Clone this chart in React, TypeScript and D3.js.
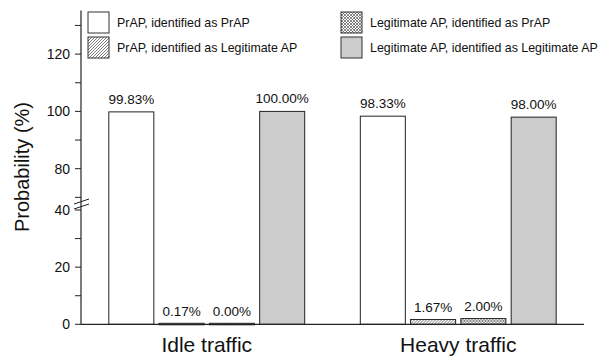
import React from "react";
import * as d3 from "d3";

const groups = ["Idle traffic", "Heavy traffic"];
const seriesKeys = ["pp", "pl", "lp", "ll"];
const seriesLabels = [
  "PrAP, identified as PrAP",
  "PrAP, identified as Legitimate AP",
  "Legitimate AP, identified as PrAP",
  "Legitimate AP, identified as Legitimate AP",
];
const idleValues = [99.83, 0.17, 0.0, 100.0];
const heavyValues = [98.33, 1.67, 2.0, 98.0];
const lowerTicks = [0, 20, 40];
const upperTicks = [80, 100, 120];
const lowerMinor = [10, 30];
const upperMinor = [70, 90, 110, 130];

const W = 608;
const H = 356;
const axisX = 81;
const axisRight = 584;
const baseY = 324.3;
const font = "Arial, 'Liberation Sans', sans-serif";

const yLow = d3.scaleLinear().domain([0, 40]).range([baseY, 210]);
const yUp = d3.scaleLinear().domain([80, 120]).range([168.7, 54.1]);
const y = (v: number) => (v <= 50 ? yLow(v) : yUp(v));

const x0 = d3.scaleBand<string>().domain(groups).range([axisX, axisRight]).padding(0);
const x1 = d3
  .scaleBand<string>()
  .domain(seriesKeys)
  .range([0, x0.bandwidth()])
  .paddingInner(0.105)
  .paddingOuter(0.553);

const fills = ["#ffffff", "url(#hatch)", "url(#cross)", "#cccccc"];

export default function App() {
  const data = [idleValues, heavyValues];
  return (
    <svg
      width={W}
      height={H}
      style={{ position: "absolute", left: 0, top: 0, background: "#fff" }}
      fontFamily={font}
    >
      <defs>
        <pattern id="hatch" patternUnits="userSpaceOnUse" width="3" height="3">
          <rect width="3" height="3" fill="#fff" />
          <path d="M-1,1 l2,-2 M0,3 l3,-3 M2,4 l2,-2" stroke="#444" strokeWidth="0.7" />
        </pattern>
        <pattern id="cross" patternUnits="userSpaceOnUse" width="3" height="3">
          <rect width="3" height="3" fill="#fff" />
          <path d="M0,0 l3,3 M3,0 l-3,3" stroke="#555" strokeWidth="0.7" />
        </pattern>
      </defs>

      {/* bars */}
      {groups.map((g, gi) => (
        <g key={g} transform={`translate(${x0(g)},0)`}>
          {seriesKeys.map((k, si) => {
            const v = data[gi][si];
            const top = y(v);
            const h = Math.max(baseY - top, 0);
            return (
              <g key={k}>
                <rect
                  x={x1(k)}
                  y={h < 1 ? baseY - 1 : top}
                  width={x1.bandwidth()}
                  height={h < 1 ? 1.5 : h}
                  fill={fills[si]}
                  stroke="#222"
                  strokeWidth={1}
                />
                <text
                  x={(x1(k) as number) + x1.bandwidth() / 2}
                  y={top - 8}
                  textAnchor="middle"
                  fontSize={13.5}
                  fill="#111"
                >
                  {v.toFixed(2) + "%"}
                </text>
              </g>
            );
          })}
          <text
            x={x0.bandwidth() / 2}
            y={351.5}
            textAnchor="middle"
            fontSize={21}
            fill="#111"
          >
            {g}
          </text>
        </g>
      ))}

      {/* axes */}
      <line x1={axisX} x2={axisRight} y1={baseY} y2={baseY} stroke="#222" strokeWidth={1.2} />
      <line x1={axisX} x2={axisX} y1={10.5} y2={baseY} stroke="#222" strokeWidth={1.2} />
      {lowerTicks.map((t) => (
        <g key={"lt" + t}>
          <line x1={axisX - 6} x2={axisX} y1={yLow(t)} y2={yLow(t)} stroke="#222" />
          <text x={70} y={yLow(t) + 5} textAnchor="end" fontSize={14} fill="#111">
            {t}
          </text>
        </g>
      ))}
      {upperTicks.map((t) => (
        <g key={"ut" + t}>
          <line x1={axisX - 6} x2={axisX} y1={yUp(t)} y2={yUp(t)} stroke="#222" />
          <text x={70} y={yUp(t) + 5} textAnchor="end" fontSize={14} fill="#111">
            {t}
          </text>
        </g>
      ))}
      {lowerMinor.map((t) => (
        <line key={"lm" + t} x1={axisX - 6} x2={axisX} y1={yLow(t)} y2={yLow(t)} stroke="#222" />
      ))}
      {upperMinor.map((t) => (
        <line key={"um" + t} x1={axisX - 6} x2={axisX} y1={yUp(t)} y2={yUp(t)} stroke="#222" />
      ))}
      {/* axis break */}
      <line x1={74} x2={89} y1={204} y2={199} stroke="#222" strokeWidth={1} />
      <line x1={74} x2={89} y1={209} y2={204} stroke="#222" strokeWidth={1} />

      <text
        transform={`translate(29,167) rotate(-90)`}
        textAnchor="middle"
        fontSize={20}
        fill="#111"
      >
        Probability (%)
      </text>

      {/* legend */}
      {seriesLabels.map((lab, i) => {
        const col = i < 2 ? 0 : 1;
        const row = i % 2;
        const bx = col === 0 ? 88 : 341;
        const by = 12 + row * 25;
        return (
          <g key={lab}>
            <rect x={bx} y={by} width={21} height={21} fill={fills[i]} stroke="#333" strokeWidth={1} />
            <text x={bx + 29} y={by + 15} fontSize={12.4} fill="#111">
              {lab}
            </text>
          </g>
        );
      })}
    </svg>
  );
}
